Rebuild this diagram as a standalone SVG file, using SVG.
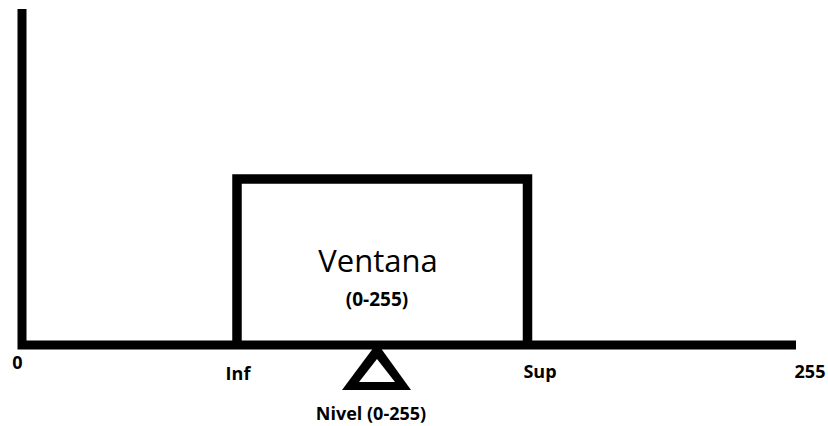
<svg xmlns="http://www.w3.org/2000/svg" width="828" height="426" viewBox="0 0 828 426">
  <style>
    .axis { stroke: #000; stroke-width: 9; fill: none; stroke-linecap: butt; }
    .win { stroke: #000; stroke-width: 9.5; fill: #fff; }
    .lbl { font-family: "Open Sans", "Liberation Sans", sans-serif; font-weight: bold; font-size: 18px; fill: #000; text-anchor: middle; }
    .title { font-family: "Open Sans", "Liberation Sans", sans-serif; font-size: 31px; fill: #000; text-anchor: middle; }
  </style>
  <rect width="828" height="426" fill="#fff"/>

  <!-- window box sitting on the axis -->
  <g id="ventana">
    <path class="win" d="M237,345 V179 H527.5 V345"/>
    <text class="title" x="378" y="272">Ventana</text>
    <text class="lbl" x="377" y="306" style="font-size:19px">(0-255)</text>
  </g>

  <!-- axes -->
  <g id="axes">
    <path class="axis" d="M22,9 V345 H796"/>
  </g>

  <!-- level marker -->
  <g id="nivel">
    <polygon points="374,347 380,347 411,390 342,390" fill="#000"/>
    <polygon points="377,359 395,382 359,382" fill="#fff"/>
    <text class="lbl" x="371" y="420">Nivel (0-255)</text>
  </g>

  <!-- axis labels -->
  <g id="labels">
    <text class="lbl" x="17.5" y="369">0</text>
    <text class="lbl" x="238" y="380">Inf</text>
    <text class="lbl" x="540" y="378">Sup</text>
    <text class="lbl" x="810" y="378">255</text>
  </g>
</svg>
